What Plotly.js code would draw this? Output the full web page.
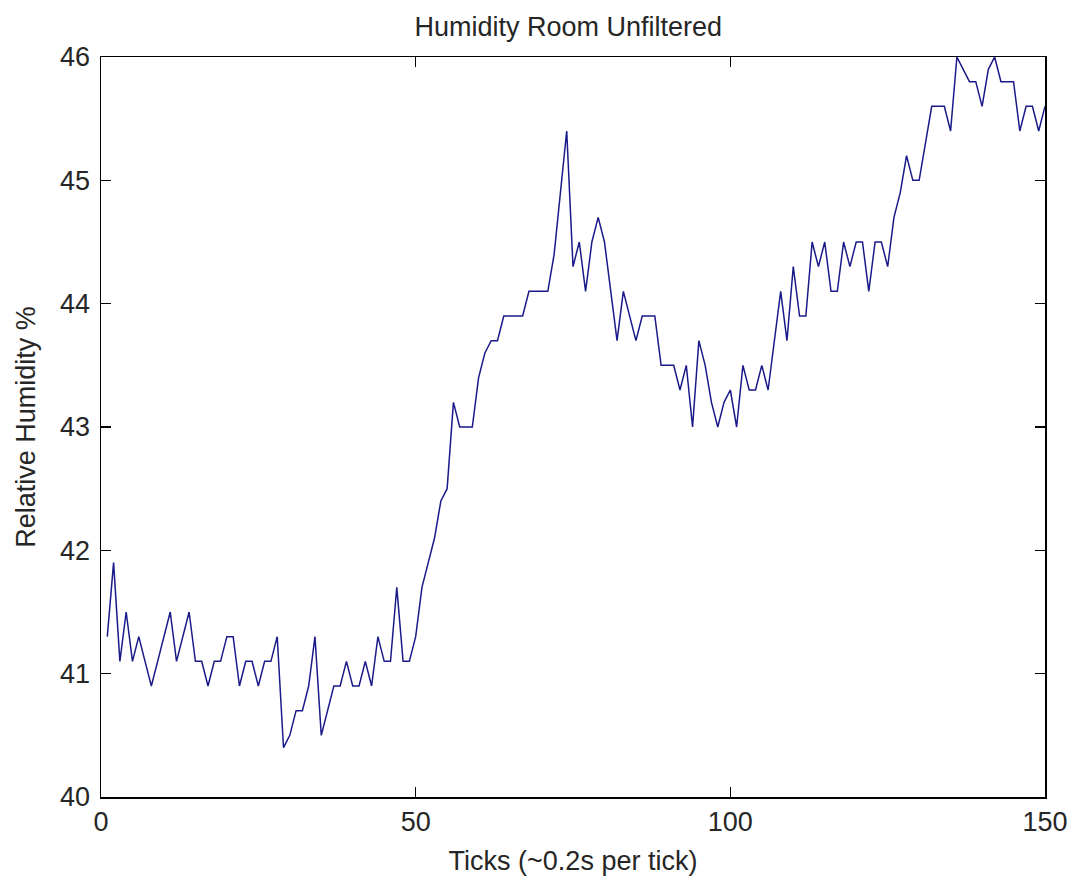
<!DOCTYPE html>
<html>
<head>
<meta charset="utf-8">
<script src="https://cdn.plot.ly/plotly-3.0.1.min.js"></script>
<style>html,body{margin:0;padding:0;background:#fff;}#chart{width:1072px;height:877px;}</style>
</head>
<body>
<div id="chart"></div>
<script>
// Tick index (1..150), ~0.2 s per tick
const ticks = Array.from({length: 150}, (_, i) => i + 1);

// Relative humidity %
const humidity = [
  41.3, 41.9, 41.1, 41.5, 41.1, 41.3, 41.1, 40.9, 41.1, 41.3,
  41.5, 41.1, 41.3, 41.5, 41.1, 41.1, 40.9, 41.1, 41.1, 41.3,
  41.3, 40.9, 41.1, 41.1, 40.9, 41.1, 41.1, 41.3, 40.4, 40.5,
  40.7, 40.7, 40.9, 41.3, 40.5, 40.7, 40.9, 40.9, 41.1, 40.9,
  40.9, 41.1, 40.9, 41.3, 41.1, 41.1, 41.7, 41.1, 41.1, 41.3,
  41.7, 41.9, 42.1, 42.4, 42.5, 43.2, 43.0, 43.0, 43.0, 43.4,
  43.6, 43.7, 43.7, 43.9, 43.9, 43.9, 43.9, 44.1, 44.1, 44.1,
  44.1, 44.4, 44.9, 45.4, 44.3, 44.5, 44.1, 44.5, 44.7, 44.5,
  44.1, 43.7, 44.1, 43.9, 43.7, 43.9, 43.9, 43.9, 43.5, 43.5,
  43.5, 43.3, 43.5, 43.0, 43.7, 43.5, 43.2, 43.0, 43.2, 43.3,
  43.0, 43.5, 43.3, 43.3, 43.5, 43.3, 43.7, 44.1, 43.7, 44.3,
  43.9, 43.9, 44.5, 44.3, 44.5, 44.1, 44.1, 44.5, 44.3, 44.5,
  44.5, 44.1, 44.5, 44.5, 44.3, 44.7, 44.9, 45.2, 45.0, 45.0,
  45.3, 45.6, 45.6, 45.6, 45.4, 46.0, 45.9, 45.8, 45.8, 45.6,
  45.9, 46.0, 45.8, 45.8, 45.8, 45.4, 45.6, 45.6, 45.4, 45.6
];

const xTickVals = [0, 50, 100, 150];
const yTickVals = [40, 41, 42, 43, 44, 45, 46];

const titleText = "Humidity Room Unfiltered";
const xTitleText = "Ticks (~0.2s per tick)";
const yTitleText = "Relative Humidity %";

const FONT = "Liberation Sans, Arial, sans-serif";
const TXT = "#262626";

const trace = {
  x: ticks,
  y: humidity,
  type: "scatter",
  mode: "lines",
  line: {color: "#1a1a8a", width: 1.5},
  hoverinfo: "x+y"
};

const axisCommon = {
  showgrid: false,
  zeroline: false,
  showline: true,
  linecolor: "#000",
  linewidth: 1.5,
  mirror: "ticks",
  ticks: "inside",
  ticklen: 10,
  tickwidth: 1.2,
  tickcolor: "#000",
  tickfont: {family: FONT, size: 27, color: TXT},
  fixedrange: true
};

const layout = {
  width: 1072,
  height: 877,
  paper_bgcolor: "#fff",
  plot_bgcolor: "#fff",
  margin: {l: 101, r: 27, t: 57, b: 80},
  showlegend: false,
  font: {family: FONT, color: TXT},
  title: {
    text: titleText,
    font: {family: FONT, size: 27, color: TXT},
    xref: "paper", x: 0.495, xanchor: "center",
    yref: "container", y: 0.970, yanchor: "middle"
  },
  xaxis: Object.assign({}, axisCommon, {
    range: [0, 150],
    tickmode: "array",
    tickvals: xTickVals,
    ticktext: xTickVals.map(String),
    title: {text: xTitleText, font: {family: FONT, size: 27, color: TXT}, standoff: 15}
  }),
  yaxis: Object.assign({}, axisCommon, {
    range: [40, 46],
    tickmode: "array",
    tickvals: yTickVals,
    ticktext: yTickVals.map(String),
    ticklabelstandoff: 4,
    title: {text: yTitleText, font: {family: FONT, size: 27, color: TXT}, standoff: 16}
  })
};

Plotly.newPlot("chart", [trace], layout, {displayModeBar: false, staticPlot: true});
</script>
</body>
</html>
